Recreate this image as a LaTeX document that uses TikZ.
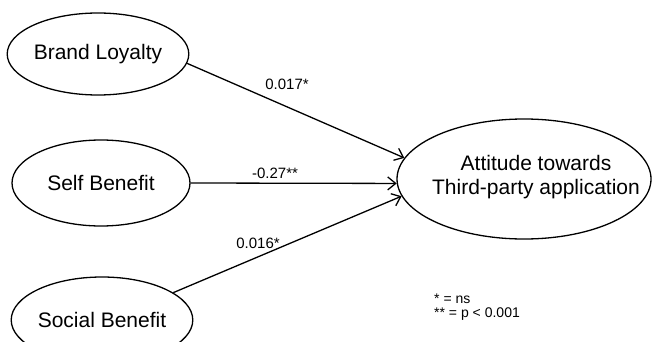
\documentclass[tikz,border=0pt]{standalone}
\usepackage{fontspec}
\setmainfont{Liberation Sans}
\usetikzlibrary{shapes.geometric,arrows.meta}
\begin{document}
\begin{tikzpicture}[x=1pt,y=-1pt,
  latent/.style={ellipse, draw, line width=1.3pt, inner sep=0pt, font=\fontsize{21}{24}\selectfont},
  path/.style={line width=1.3pt, -{Straight Barb[length=8pt,width=13pt,line width=1.3pt]}},
  coef/.style={font=\fontsize{15}{18}\selectfont, inner sep=1pt},
  legendtext/.style={font=\fontsize{14}{13.5}\selectfont, align=left, anchor=west, inner sep=0pt}]
\useasboundingbox (0,0) rectangle (652,342);
\node[latent, minimum width=172pt, minimum height=82pt] (bl) at (98,54) {Brand Loyalty};
\node[latent, minimum width=178pt, minimum height=86pt] (sb) at (101,183) {Self Benefit};
\node[latent, minimum width=180pt, minimum height=86pt] (soc) at (102,320) {Social Benefit};
\node[latent, minimum width=254pt, minimum height=120pt] (att) at (524,179) {};
\node[align=center, font=\fontsize{21}{23.5}\selectfont] (attl) at (536,177) {Attitude towards\\Third-party application};
\draw[path] (bl.-6) -- (att.170);
\draw[path] (sb.east) -- (att.182);
\draw[path] (soc.21.8) -- (att.188);
\node[coef] (c1) at (287,84) {0.017*};
\node[coef] (c2) at (275,173) {-0.27**};
\node[coef] (c3) at (258,243) {0.016*};
\node[legendtext] (leg) at (434,307) {* = ns\\** = p < 0.001};
\end{tikzpicture}
\end{document}
